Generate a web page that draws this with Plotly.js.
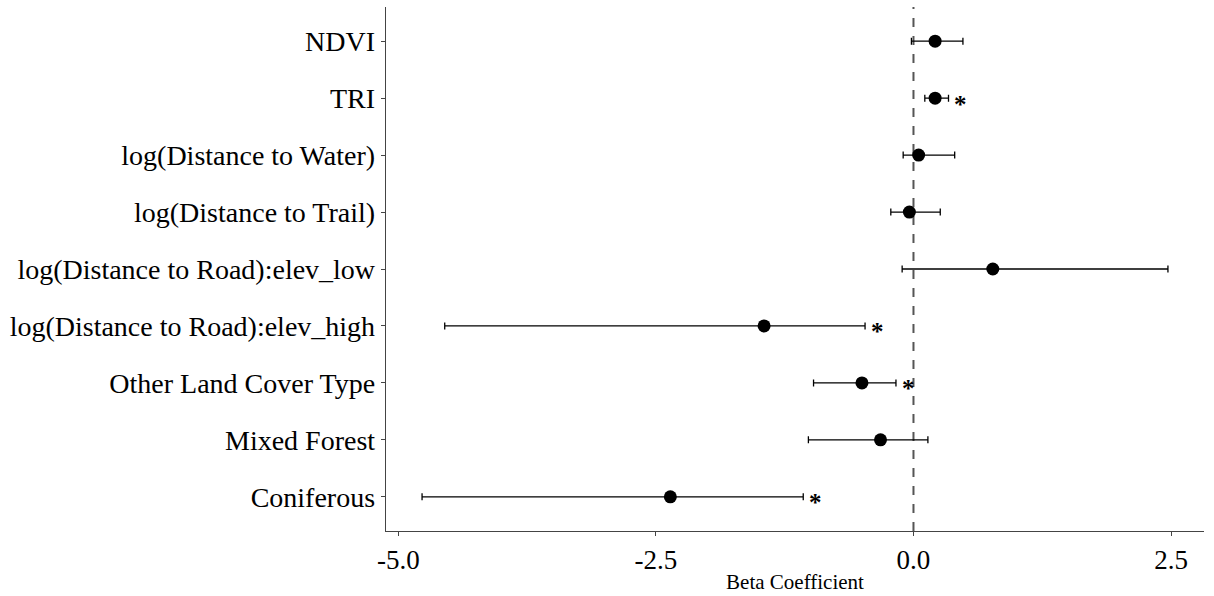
<!DOCTYPE html>
<html>
<head>
<meta charset="utf-8">
<script src="https://cdn.plot.ly/plotly-3.0.1.min.js"></script>
<style>html,body{margin:0;padding:0;background:#fff;}#chart{width:1214px;height:596px;}</style>
</head>
<body>
<div id="chart"></div>
<script>
// Categories, top to bottom
const terms = ["NDVI","TRI","log(Distance to Water)","log(Distance to Trail)","log(Distance to Road):elev_low","log(Distance to Road):elev_high","Other Land Cover Type","Mixed Forest","Coniferous"];
const estimate = [0.21, 0.21, 0.05, -0.04, 0.77, -1.45, -0.50, -0.32, -2.36];
const lower    = [-0.02, 0.11, -0.10, -0.22, -0.11, -4.55, -0.97, -1.02, -4.77];
const upper    = [0.48, 0.34, 0.40, 0.26, 2.47, -0.47, -0.17, 0.14, -1.07];
const significant = [false, true, false, false, false, true, true, false, true];
const xTicks = [-5.0, -2.5, 0.0, 2.5];
const xTickLabels = ["-5.0", "-2.5", "0.0", "2.5"];

const serif = "Liberation Serif, Times New Roman, serif";

const trace = {
  type: "scatter",
  mode: "markers",
  x: estimate,
  y: terms,
  marker: {color: "#000", size: 13, symbol: "circle"},
  error_x: {
    type: "data",
    symmetric: false,
    array: upper.map((u, i) => u - estimate[i]),
    arrayminus: lower.map((l, i) => estimate[i] - l),
    color: "#000",
    thickness: 1.3,
    width: 3.5
  },
  showlegend: false,
  hoverinfo: "x+y"
};

const annotations = [];
terms.forEach((t, i) => {
  if (significant[i]) {
    annotations.push({
      x: upper[i] + 0.12, y: t, xref: "x", yref: "y",
      text: "<b>*</b>", showarrow: false,
      font: {family: serif, size: 25, color: "#000"},
      yshift: -6
    });
  }
});

const layout = {
  width: 1214, height: 596,
  margin: {l: 386, r: 10, t: 7, b: 65},
  paper_bgcolor: "#fff", plot_bgcolor: "#fff",
  font: {family: serif, color: "#000"},
  xaxis: {
    range: [-5.12, 2.82],
    tickvals: xTicks, ticktext: xTickLabels,
    ticks: "outside", ticklen: 4, tickcolor: "#444", tickwidth: 1,
    showline: true, linecolor: "#444", linewidth: 1.3,
    showgrid: false, zeroline: false,
    tickfont: {family: serif, size: 27, color: "#000"},
    title: {text: "Beta Coefficient", font: {family: serif, size: 21, color: "#000"}, standoff: 0}
  },
  yaxis: {
    type: "category",
    categoryorder: "array", categoryarray: terms,
    range: [8.6, -0.6],
    ticks: "outside", ticklen: 4, tickcolor: "#444", tickwidth: 1,
    showline: true, linecolor: "#444", linewidth: 1.3,
    showgrid: false, zeroline: false,
    tickfont: {family: serif, size: 28, color: "#000"}
  },
  shapes: [{
    type: "line", xref: "x", yref: "paper",
    x0: 0, x1: 0, y0: 0, y1: 1,
    line: {color: "#555", width: 2, dash: "dash"},
    layer: "below"
  }],
  annotations: annotations
};

Plotly.newPlot("chart", [trace], layout, {displayModeBar: false, staticPlot: true});
</script>
</body>
</html>
